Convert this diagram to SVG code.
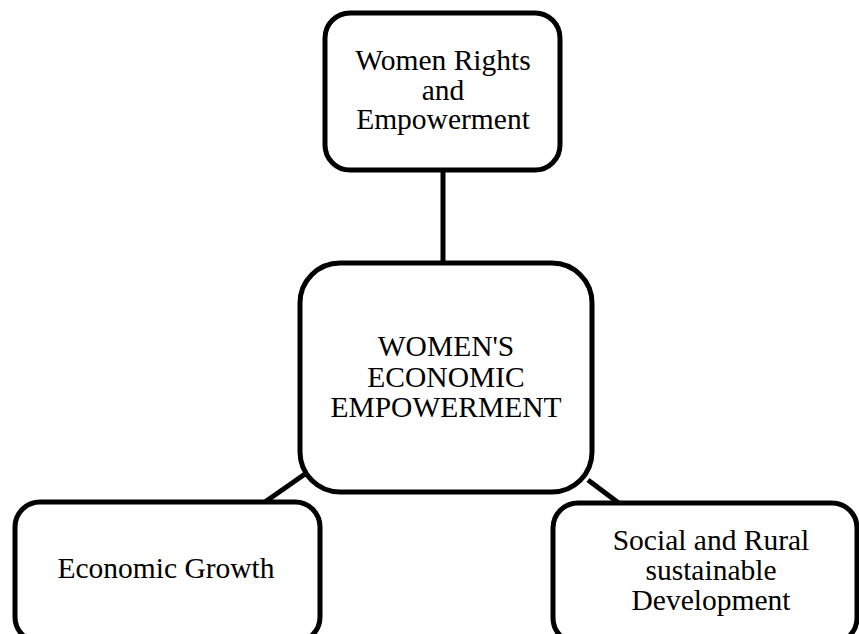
<svg xmlns="http://www.w3.org/2000/svg" width="859" height="634" viewBox="0 0 859 634">
<style>
.box{fill:#fff;stroke:#000;stroke-width:5}
.con{stroke:#000;stroke-width:5;fill:none}
text{font-family:"Liberation Serif","Times New Roman",serif;font-size:29.5px;fill:#000;text-anchor:middle}
</style>
<rect width="859" height="634" fill="#fff"/>
<g id="connectors">
<line class="con" x1="443" y1="168" x2="443" y2="265"/>
<line class="con" x1="305" y1="474" x2="262" y2="504"/>
<line class="con" x1="588" y1="480" x2="620" y2="504"/>
</g>
<g id="top">
<rect class="box" x="325" y="13" width="235" height="157" rx="25"/>
<text x="443" y="70">Women Rights</text>
<text x="443" y="100">and</text>
<text x="443" y="129">Empowerment</text>
</g>
<g id="center">
<rect class="box" x="300" y="263" width="292" height="229" rx="40"/>
<text x="446" y="356">WOMEN'S</text>
<text x="446" y="387">ECONOMIC</text>
<text x="446" y="417">EMPOWERMENT</text>
</g>
<g id="left">
<rect class="box" x="15" y="502" width="305" height="140" rx="25"/>
<text x="166" y="578">Economic Growth</text>
</g>
<g id="right">
<rect class="box" x="553" y="503" width="304" height="140" rx="25"/>
<text x="711" y="550">Social and Rural</text>
<text x="711" y="580">sustainable</text>
<text x="711" y="610">Development</text>
</g>
</svg>
